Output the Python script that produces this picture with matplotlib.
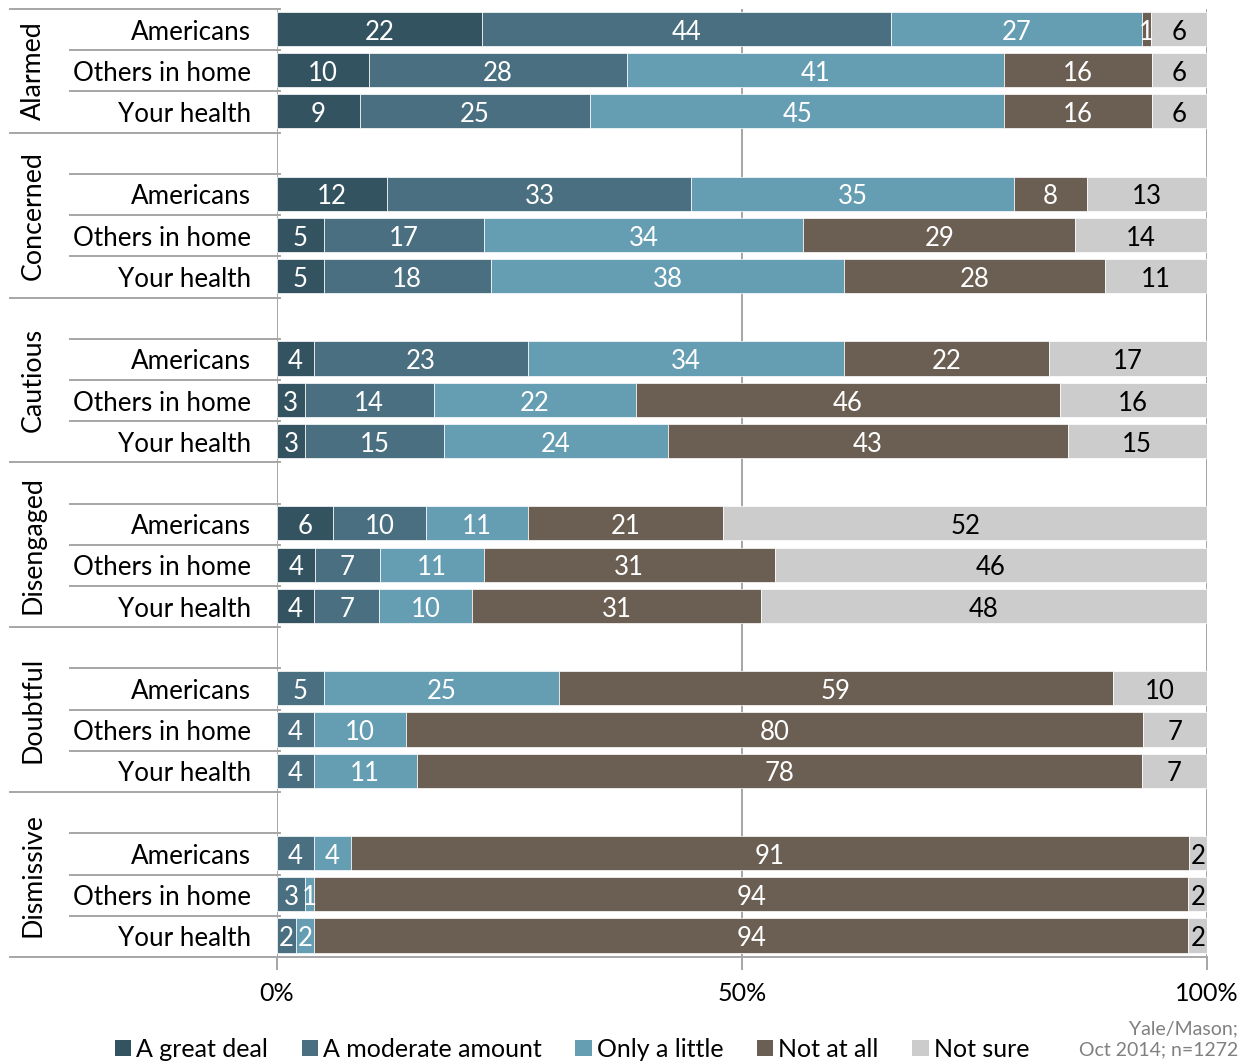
import numpy as np
import matplotlib
matplotlib.use("Agg")
import matplotlib.pyplot as plt
from matplotlib.patches import Patch

plt.rcParams["font.family"] = ["Lato", "DejaVu Sans"]

groups = ["Alarmed", "Concerned", "Cautious", "Disengaged", "Doubtful", "Dismissive"]
rows = ["Americans", "Others in home", "Your health"]
answers = ["A great deal", "A moderate amount", "Only a little", "Not at all", "Not sure"]
colors = ["#345360", "#4a6f80", "#659db2", "#6b5f53", "#cccccc"]

# per group: rows (Americans, Others in home, Your health) x answers
great = [[22, 10, 9], [12, 5, 5], [4, 3, 3], [6, 4, 4], [0, 0, 0], [0, 0, 0]]
moderate = [[44, 28, 25], [33, 17, 18], [23, 14, 15], [10, 7, 7], [5, 4, 4], [4, 3, 2]]
little = [[27, 41, 45], [35, 34, 38], [34, 22, 24], [11, 11, 10], [25, 10, 11], [4, 1, 2]]
notatall = [[1, 16, 16], [8, 29, 28], [22, 46, 43], [21, 31, 31], [59, 80, 78], [91, 94, 94]]
notsure = [[6, 6, 6], [13, 14, 11], [17, 16, 15], [52, 46, 48], [10, 7, 7], [2, 2, 2]]

series = [np.array(s, dtype=float) for s in (great, moderate, little, notatall, notsure)]
totals = sum(series)

fig = plt.figure(figsize=(12.49, 10.63), dpi=100)
ax = fig.add_axes([277 / 1249, 1 - 957 / 1063, 930 / 1249, 948 / 1063])

line_c = "#a6a6a6"
ypos = []
for g in range(len(groups)):
    start = 0 if g == 0 else 4 * g
    ypos.append([start + r for r in range(3)])
ypos = np.array(ypos)

for g in range(len(groups)):
    left = np.zeros(3)
    for k, s in enumerate(series):
        w = s[g] / totals[g] * 100
        ax.barh(ypos[g] - 0.02, w, left=left, height=0.83, color=colors[k],
                edgecolor="white", linewidth=0.5, zorder=3)
        for r in range(3):
            if s[g][r] > 0:
                ax.text(left[r] + w[r] / 2, ypos[g][r] + 0.06, f"{int(s[g][r])}",
                        ha="center", va="center", fontsize=18.5, zorder=4,
                        color="black" if k == 4 else "white")
        left = left + w

ax.set_xlim(0, 100)
ax.set_ylim(22.5, -0.5)
ax.set_yticks([])
ax.set_xticks([0, 50, 100])
ax.set_xticklabels(["0%", "50%", "100%"], fontsize=18)
ax.tick_params(axis="x", length=9, width=1.4, color=line_c, pad=9)
for sp in ["top", "right", "left"]:
    ax.spines[sp].set_visible(False)
ax.spines["bottom"].set_color(line_c)
ax.spines["bottom"].set_linewidth(1.4)
for x in [0, 50, 100]:
    ax.axvline(x, color=line_c, lw=1.4, zorder=1)

# row labels and separator lines in the label area
tr = ax.get_yaxis_transform()
x_cat = (70 - 277) / 930
x_grp = (10 - 277) / 930
for g in range(len(groups)):
    for r in range(3):
        ax.text(-0.028, ypos[g][r] + 0.06, rows[r], transform=tr, ha="right",
                va="center", fontsize=18.7)
    top = -0.5 if g == 0 else ypos[g][0] - 1.5
    ax.text(x_grp + 0.025, (top + ypos[g][2] + 0.5) / 2, groups[g], transform=tr,
            rotation=90, ha="center", va="center", fontsize=19.3)
for b in range(24):
    y = b - 0.5
    is_grp = y == -0.5 or (y + 0.5) % 4 == 3 or y == 22.5
    x0 = x_grp if is_grp else x_cat
    ax.plot([x0, 0.003], [y, y], transform=tr, color=line_c, lw=1.4,
            clip_on=False, zorder=1)

handles = [Patch(facecolor=c, edgecolor="none") for c in colors]
fig.legend(handles, answers, loc="center", bbox_to_anchor=(0.458, 0.013),
           ncol=5, frameon=False, fontsize=18, handlelength=0.65,
           handleheight=0.65, handletextpad=0.2, columnspacing=1.35)
fig.text(0.991, 0.022, "Yale/Mason;\nOct 2014; n=1272", ha="right", va="center",
         fontsize=14, color="#808080", linespacing=1.25)

fig.savefig("out.png", dpi=100)
